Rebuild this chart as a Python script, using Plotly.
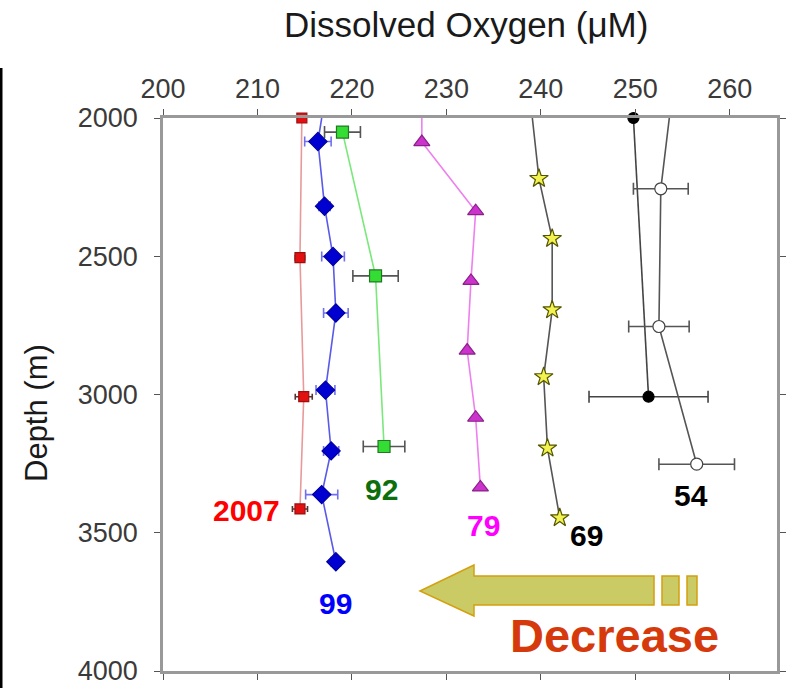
import plotly.graph_objects as go

# ---------------- data ----------------
# 2007 (red squares)
d2007_x = [214.7, 214.5, 214.9, 214.5]
d2007_y = [2000, 2505, 3008, 3414]
d2007_e = [0.0, 0.5, 0.9, 0.8]

# 1999 (blue diamonds)
d99_x = [216.4, 217.1, 218.0, 218.3, 217.2, 217.8, 216.8, 218.3]
d99_y = [2085, 2319, 2501, 2705, 2984, 3204, 3362, 3605]
d99_e = [1.4, 0.6, 1.2, 1.3, 1.0, 0.8, 1.7, 0.5]
d99_top = 216.8

# 1992 (green squares)
d92_x = [219.0, 222.5, 223.4]
d92_y = [2051, 2571, 3188]
d92_e = [1.9, 2.4, 2.2]

# 1979 (magenta triangles)
d79_x = [227.4, 233.1, 232.6, 232.2, 233.1, 233.6]
d79_y = [2087, 2337, 2589, 2841, 3084, 3336]
d79_top = 227.4

# 1969 (yellow stars)
d69_x = [239.8, 241.2, 241.2, 240.3, 240.7, 242.0]
d69_y = [2219, 2436, 2694, 2936, 3194, 3446]
d69_top = 239.1

# 1954 (filled black circles)
d54f_x = [249.8, 251.4]
d54f_y = [2000, 3008]
d54f_e = [0.0, 6.3]

# 1954 (open circles)
d54o_x = [252.7, 252.5, 256.5]
d54o_y = [2256, 2754, 3252]
d54o_e = [2.9, 3.2, 4.0]
d54o_top = 253.6

TOP_DEPTH = 2000
x_ticks = [200, 210, 220, 230, 240, 250, 260]
y_ticks = [2000, 2500, 3000, 3500, 4000]

labels = ["2007", "92", "99", "79", "69", "54"]
label_x = [208.8, 223.1, 218.3, 233.9, 244.8, 255.9]
label_y = [3419, 3342, 3755, 3475, 3509, 3367]
label_c = ["#ff0000", "#0d6e0d", "#0000ff", "#ff00ff", "#000000", "#000000"]

# ---------------- figure ----------------
W, H = 790, 688
ML, MR, MT, MB = 163, 13, 118, 17
PW, PH = W - ML - MR, H - MT - MB

def px(xp):
    return (xp - ML) / PW

def py(yp):
    return 1 - (yp - MT) / PH

FONT = "Liberation Sans, Arial, sans-serif"
fig = go.Figure()

def add_series(xs, ys, errs, top, line_color, symbol, size, fill, edge, err_color, cap):
    lx = ([top] if top is not None else []) + xs
    ly = ([TOP_DEPTH] if top is not None else []) + ys
    fig.add_trace(go.Scatter(x=lx, y=ly, mode="lines",
                             line=dict(color=line_color, width=1.6),
                             hoverinfo="skip", showlegend=False, cliponaxis=True))
    kw = {}
    if errs is not None:
        kw["error_x"] = dict(type="data", array=errs, symmetric=True,
                             color=err_color, thickness=1.6, width=cap)
    fig.add_trace(go.Scatter(x=xs, y=ys, mode="markers",
                             marker=dict(symbol=symbol, size=size, color=fill,
                                         line=dict(color=edge, width=1.2)),
                             showlegend=False, cliponaxis=False, **kw))

add_series(d2007_x, d2007_y, d2007_e, None, "#e89a9a", "square", 10, "#e21010", "#9a1010", "#553333", 3)
add_series(d99_x, d99_y, d99_e, d99_top, "#5a5ae8", "diamond", 14, "#0000d0", "#0000a0", "#7070ee", 5)
add_series(d92_x, d92_y, d92_e, None, "#7ae87a", "square", 12, "#33dd33", "#227722", "#555555", 6)
add_series(d79_x, d79_y, None, d79_top, "#ee80ee", "triangle-up", 14, "#cc33cc", "#882288", None, 0)
add_series(d69_x, d69_y, None, d69_top, "#555555", "star", 14, "#f2f250", "#555500", None, 0)
add_series(d54f_x, d54f_y, d54f_e, None, "#444444", "circle", 11, "#000000", "#000000", "#444444", 6)
add_series(d54o_x, d54o_y, d54o_e, d54o_top, "#555555", "circle", 12, "#ffffff", "#444444", "#555555", 6)

for t, xx, yy, c in zip(labels, label_x, label_y, label_c):
    fig.add_annotation(x=xx, y=yy, text=f"<b>{t}</b>", showarrow=False,
                       font=dict(family=FONT, size=30, color=c),
                       xanchor="center", yanchor="middle")

# Decrease arrow (decoration in paper space)
arrow_pts = [(420, 591), (474, 565), (474, 576), (654, 576), (654, 605),
             (474, 605), (474, 616)]
path = "M " + " L ".join(f"{px(a):.4f},{py(b):.4f}" for a, b in arrow_pts) + " Z"
arrow_style = dict(fillcolor="#cbcb66", line=dict(color="#d4a010", width=1.5), layer="above")
fig.add_shape(type="path", path=path, xref="paper", yref="paper", **arrow_style)
for x0, x1 in [(662, 679), (687, 697)]:
    fig.add_shape(type="rect", xref="paper", yref="paper", x0=px(x0), x1=px(x1),
                  y0=py(605), y1=py(576), **arrow_style)

fig.add_annotation(xref="paper", yref="paper", x=px(614), y=py(635),
                   text="<b>Decrease</b>", showarrow=False,
                   font=dict(family=FONT, size=47, color="#d63a0c"),
                   xanchor="center", yanchor="middle")

# titles
fig.add_annotation(xref="paper", yref="paper", x=px(466), y=py(25),
                   text="Dissolved Oxygen (\u03bcM)", showarrow=False,
                   font=dict(family=FONT, size=35, color="#1a1a1a"),
                   xanchor="center", yanchor="middle")
fig.add_annotation(xref="paper", yref="paper", x=px(36), y=py(413),
                   text="Depth (m)", showarrow=False, textangle=-90,
                   font=dict(family=FONT, size=31, color="#1a1a1a"),
                   xanchor="center", yanchor="middle")

# left black border fragment
fig.add_shape(type="line", xref="paper", yref="paper", x0=px(1), x1=px(1),
              y0=py(68), y1=py(688), line=dict(color="#000000", width=3))

axis_common = dict(showgrid=False, zeroline=False, showline=True, automargin=False,
                   linecolor="#999999", linewidth=2.5, mirror="ticks",
                   ticks="outside", ticklen=6, tickwidth=1.2, tickcolor="#555555",
                   ticklabeloverflow="allow",
                   tickfont=dict(family=FONT, size=27, color="#3a3a3a"))
fig.update_xaxes(range=[200, 265], side="top", tickvals=x_ticks,
                 ticklabelstandoff=0, **axis_common)
fig.update_yaxes(range=[4000, 2000], tickvals=y_ticks,
                 ticklabelstandoff=11, **axis_common)

fig.update_layout(width=W, height=H, margin=dict(l=ML, r=MR, t=MT, b=MB),
                  paper_bgcolor="white", plot_bgcolor="white", showlegend=False)

fig.write_html("out.html")
